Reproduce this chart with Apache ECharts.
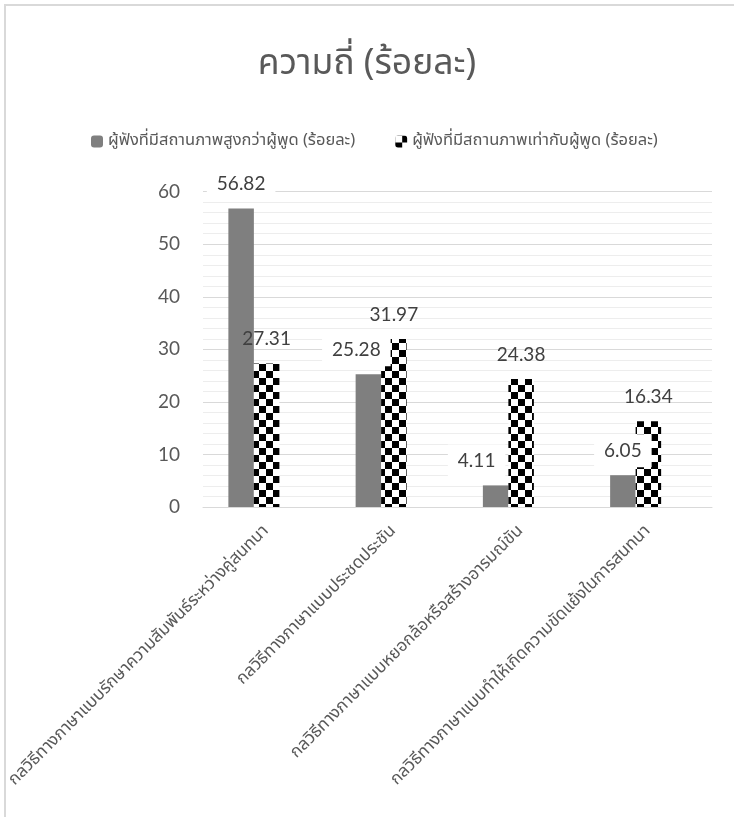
<!DOCTYPE html>
<html>
<head>
<meta charset="utf-8">
<script src="https://cdn.jsdelivr.net/npm/echarts@6/dist/echarts.min.js"></script>
<style>
  html, body { margin: 0; padding: 0; background: #fff; }
  #main { width: 734px; height: 817px; }
</style>
</head>
<body>
<div id="main"></div>
<script>
// chart data
var categories = [
    'กลวิธีทางภาษาแบบรักษาความสัมพันธ์ระหว่างคู่สนทนา',
    'กลวิธีทางภาษาแบบประชดประชัน',
    'กลวิธีทางภาษาแบบหยอกล้อหรือสร้างอารมณ์ขัน',
    'กลวิธีทางภาษาแบบทำให้เกิดความขัดแย้งในการสนทนา'
];
var seriesNames = [
    'ผู้ฟังที่มีสถานภาพสูงกว่าผู้พูด (ร้อยละ)',
    'ผู้ฟังที่มีสถานภาพเท่ากับผู้พูด (ร้อยละ)'
];
var higherStatus = [56.82, 25.28, 4.11, 6.05];
var equalStatus = [27.31, 31.97, 24.38, 16.34];
var yTicks = [0, 10, 20, 30, 40, 50, 60];

// label nudges (Excel moved two labels sideways)
var higherLabelShift = [0, -12, -19, 0];

var thaiFont = "'Noto Sans Thai', 'Noto Sans', sans-serif";
var numFont = "Lato, 'Noto Sans', sans-serif";

function checker() {
    var c = document.createElement('canvas');
    c.width = 14;
    c.height = 14;
    var g = c.getContext('2d');
    g.fillStyle = '#ffffff';
    g.fillRect(0, 0, 14, 14);
    g.fillStyle = '#000000';
    g.fillRect(7, 0, 7, 7);
    g.fillRect(0, 7, 7, 7);
    return c;
}

var myChart = echarts.init(document.getElementById('main'));

var option = {
    backgroundColor: '#ffffff',
    animation: false,
    title: {
        text: 'ความถี่ (ร้อยละ)',
        left: 'center',
        top: 44,
        textStyle: { fontFamily: thaiFont, fontSize: 35.5, fontWeight: 'normal', color: '#595959' }
    },
    legend: {
        data: seriesNames,
        left: 86,
        top: 128,
        itemWidth: 12,
        itemHeight: 12,
        itemGap: 40,
        textStyle: { fontFamily: thaiFont, fontSize: 16.5, color: '#595959' }
    },
    grid: {
        left: 203,
        right: 22,
        top: 191.7,
        bottom: 310
    },
    xAxis: {
        type: 'category',
        data: categories,
        axisLine: { lineStyle: { color: '#d9d9d9', width: 1 } },
        axisTick: { show: false },
        axisLabel: {
            rotate: 45,
            margin: 22,
            fontFamily: thaiFont,
            fontSize: 17,
            color: '#595959',
            interval: 0
        }
    },
    yAxis: {
        type: 'value',
        min: yTicks[0],
        max: yTicks[yTicks.length - 1],
        interval: 10,
        axisLine: { show: false },
        axisTick: { show: false },
        axisLabel: { margin: 23, fontFamily: numFont, fontSize: 19, color: '#595959' },
        splitLine: { lineStyle: { color: '#d9d9d9', width: 1 } },
        minorTick: { show: false, splitNumber: 5 },
        minorSplitLine: { show: true, lineStyle: { color: '#ededed', width: 1 } }
    },
    series: [
        {
            name: seriesNames[0],
            type: 'bar',
            barWidth: 25.5,
            barGap: '0%',
            itemStyle: { color: '#7f7f7f' },
            label: {
                show: true,
                position: 'top',
                distance: 8,
                fontFamily: numFont,
                fontSize: 19,
                color: '#404040',
                backgroundColor: '#ffffff',
                padding: [7, 10]
            },
            data: higherStatus.map(function (v, i) {
                return { value: v, label: { offset: [higherLabelShift[i], 0] } };
            })
        },
        {
            name: seriesNames[1],
            type: 'bar',
            barWidth: 25.5,
            barGap: '0%',
            itemStyle: { color: { image: checker(), repeat: 'repeat' } },
            label: {
                show: true,
                position: 'top',
                distance: 15,
                fontFamily: numFont,
                fontSize: 19,
                color: '#404040'
            },
            data: equalStatus
        },
        {
            // empty slot: Excel leaves the pair shifted left inside each category
            name: 'pad',
            type: 'bar',
            barWidth: 25.5,
            barGap: '0%',
            silent: true,
            data: categories.map(function () { return null; })
        }
    ],
    graphic: [
        {
            type: 'rect',
            shape: { x: 5, y: 5, width: 760, height: 840 },
            style: { fill: null, stroke: '#d9d9d9', lineWidth: 2 },
            silent: true
        }
    ]
};

myChart.setOption(option);
window.onresize = myChart.resize;
</script>
</body>
</html>
